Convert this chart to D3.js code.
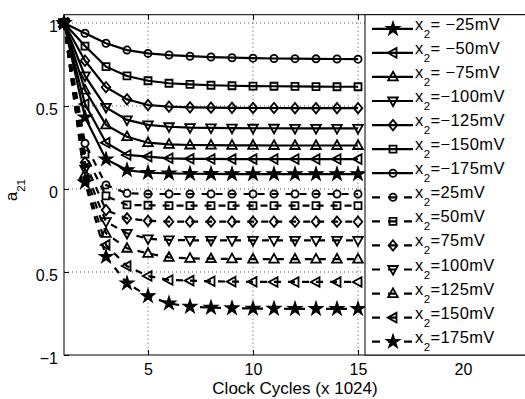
<!DOCTYPE html>
<html>
<head>
<meta charset="utf-8">
<script src="https://cdn.jsdelivr.net/npm/d3@7"></script>
<style>
  body { margin: 0; background: #fff; }
  svg { display: block; font-family: "Liberation Sans", Arial, Helvetica, sans-serif; }
</style>
</head>
<body>
<svg id="chart" width="525" height="399"></svg>
<script>
// Clock cycles (x 1024), same for every curve
var cycles = [1, 2, 3, 4, 5, 6, 7, 8, 9, 10, 11, 12, 13, 14, 15];

// a21 for negative x2 (solid lines)
var aNeg25  = [1, 0.432, 0.179, 0.114, 0.098, 0.094, 0.092, 0.091, 0.090, 0.090, 0.090, 0.090, 0.090, 0.090, 0.090];
var aNeg50  = [1, 0.512, 0.279, 0.205, 0.195, 0.185, 0.182, 0.181, 0.180, 0.180, 0.180, 0.180, 0.180, 0.180, 0.180];
var aNeg75  = [1, 0.596, 0.386, 0.315, 0.279, 0.269, 0.265, 0.264, 0.263, 0.263, 0.262, 0.262, 0.262, 0.262, 0.262];
var aNeg100 = [1, 0.681, 0.492, 0.416, 0.386, 0.375, 0.370, 0.368, 0.367, 0.366, 0.366, 0.365, 0.365, 0.365, 0.365];
var aNeg125 = [1, 0.773, 0.613, 0.540, 0.506, 0.496, 0.492, 0.490, 0.489, 0.488, 0.488, 0.487, 0.487, 0.487, 0.487];
var aNeg150 = [1, 0.861, 0.737, 0.681, 0.652, 0.637, 0.630, 0.625, 0.622, 0.620, 0.619, 0.618, 0.617, 0.616, 0.616];
var aNeg175 = [1, 0.938, 0.878, 0.837, 0.817, 0.807, 0.800, 0.795, 0.791, 0.788, 0.786, 0.785, 0.784, 0.783, 0.782];

// a21 for positive x2 (dashed lines)
var aPos25  = [1, 0.275, 0.024, -0.026, -0.030, -0.030, -0.030, -0.030, -0.030, -0.030, -0.030, -0.030, -0.030, -0.030, -0.030];
var aPos50  = [1, 0.210, -0.042, -0.096, -0.098, -0.100, -0.100, -0.100, -0.100, -0.100, -0.100, -0.100, -0.100, -0.100, -0.100];
var aPos75  = [1, 0.160, -0.127, -0.177, -0.192, -0.197, -0.197, -0.197, -0.197, -0.197, -0.197, -0.197, -0.197, -0.197, -0.197];
var aPos100 = [1, 0.120, -0.197, -0.267, -0.300, -0.307, -0.309, -0.310, -0.310, -0.310, -0.310, -0.310, -0.310, -0.310, -0.310];
var aPos125 = [1, 0.090, -0.267, -0.357, -0.388, -0.412, -0.418, -0.420, -0.421, -0.422, -0.422, -0.422, -0.422, -0.422, -0.422];
var aPos150 = [1, 0.060, -0.337, -0.464, -0.524, -0.548, -0.552, -0.556, -0.558, -0.559, -0.560, -0.560, -0.560, -0.560, -0.560];
var aPos175 = [1, 0.040, -0.408, -0.568, -0.645, -0.689, -0.709, -0.715, -0.718, -0.720, -0.721, -0.722, -0.722, -0.722, -0.722];

var legendLabels = ["= \u221225mV", "= \u221250mV", "= \u221275mV", "=\u2212100mV", "=\u2212125mV", "=\u2212150mV", "=\u2212175mV",
                    "=25mV", "=50mV", "=75mV", "=100mV", "=125mV", "=150mV", "=175mV"];
var markers = ["star", "left", "up", "down", "diamond", "square", "circle",
               "circle", "square", "diamond", "down", "up", "left", "star"];
var xTicks = [5, 10, 15, 20];
var yTicks = [-1, -0.5, 0, 0.5, 1];
var yTickLabels = ["\u22121", "0.5", "0", "0.5", "1"];

// legend order == draw order
var series = [aNeg25, aNeg50, aNeg75, aNeg100, aNeg125, aNeg150, aNeg175,
              aPos25, aPos50, aPos75, aPos100, aPos125, aPos150, aPos175].map(function(vals, i) {
  return {
    values: vals,
    label: legendLabels[i],
    marker: markers[i],
    dashed: i >= 7
  };
});

var svg = d3.select("#chart");
var x = d3.scaleLinear().domain([1, 23]).range([64, 526]);
var y = d3.scaleLinear().domain([-1, 1.05]).range([355, 14.7]);

var markerPath = function(type) {
  switch (type) {
    case "circle":  return "M3.6,0A3.6,3.6 0 1,1 -3.6,0A3.6,3.6 0 1,1 3.6,0Z";
    case "square":  return "M-3.5,-3.5H3.5V3.5H-3.5Z";
    case "diamond": return "M0,-5.2L4.3,0L0,5.2L-4.3,0Z";
    case "up":      return "M0,-5.2L4.8,3.5L-4.8,3.5Z";
    case "down":    return "M0,5.2L4.8,-3.5L-4.8,-3.5Z";
    case "left":    return "M-5.2,0L3.5,-4.8L3.5,4.8Z";
    case "star":    return d3.symbol(d3.symbolStar, 58)();
  }
};

var drawMarker = function(sel, type) {
  sel.append("path")
    .attr("d", markerPath(type))
    .attr("fill", type === "star" ? "#000" : "none")
    .attr("stroke", "#000")
    .attr("stroke-width", type === "star" ? 1.2 : 1.8)
    .attr("stroke-linejoin", "miter");
};

// dotted grid
svg.append("g").selectAll("line").data(xTicks).enter().append("line")
  .attr("x1", function(d) { return x(d); }).attr("x2", function(d) { return x(d); })
  .attr("y1", y(1.05)).attr("y2", y(-1))
  .attr("stroke", "#555").attr("stroke-width", 1).attr("stroke-dasharray", "1,3");
svg.append("g").selectAll("line").data(yTicks.slice(1)).enter().append("line")
  .attr("x1", x(1)).attr("x2", x(23))
  .attr("y1", function(d) { return y(d); }).attr("y2", function(d) { return y(d); })
  .attr("stroke", "#555").attr("stroke-width", 1).attr("stroke-dasharray", "1,3");

// curves
var line = d3.line()
  .x(function(d, i) { return x(cycles[i]); })
  .y(function(d) { return y(d); });

var curves = svg.append("g");
series.forEach(function(s) {
  var g = curves.append("g");
  g.append("path")
    .attr("d", line(s.values))
    .attr("fill", "none")
    .attr("stroke", "#000")
    .attr("stroke-width", 2.2)
    .attr("stroke-dasharray", s.dashed ? "7,7" : null);
  g.selectAll(".mk").data(s.values).enter().append("g")
    .attr("class", "mk")
    .attr("transform", function(d, i) { return "translate(" + x(cycles[i]) + "," + y(d) + ")"; })
    .each(function() { drawMarker(d3.select(this), s.marker); });
});

// axes
var fontFam = '"Liberation Sans", Arial, Helvetica, sans-serif';
var xAxis = svg.append("g")
  .attr("transform", "translate(0," + y(-1) + ")")
  .call(d3.axisBottom(x).tickValues(xTicks).tickSize(-5).tickSizeOuter(0).tickPadding(9));
var xAxisTop = svg.append("g")
  .attr("transform", "translate(0," + y(1.05) + ")")
  .call(d3.axisTop(x).tickValues(xTicks).tickSize(-5).tickSizeOuter(0).tickFormat(""));
var yAxis = svg.append("g")
  .attr("transform", "translate(" + x(1) + ",0)")
  .call(d3.axisLeft(y).tickValues(yTicks).tickSize(-5).tickSizeOuter(0).tickPadding(6)
    .tickFormat(function(d, i) { return yTickLabels[i]; }));
[xAxis, xAxisTop, yAxis].forEach(function(a) {
  a.attr("font-size", 16).attr("font-family", fontFam);
  a.select(".domain").remove();
  a.selectAll("line").attr("stroke", "#000");
});
yAxis.selectAll("text").attr("dy", "0.5em");

svg.append("rect")
  .attr("x", x(1)).attr("y", y(1.05))
  .attr("width", x(23) - x(1)).attr("height", y(-1) - y(1.05))
  .attr("fill", "none").attr("stroke", "#000").attr("stroke-width", 1);

// axis labels
svg.append("text")
  .attr("x", (x(1) + x(23)) / 2).attr("y", 394)
  .attr("text-anchor", "middle").attr("font-size", 17)
  .text("Clock Cycles (x 1024)");

var yl = svg.append("text")
  .attr("transform", "translate(17,190) rotate(-90)")
  .attr("text-anchor", "middle").attr("font-size", 16.5);
yl.append("tspan").text("a");
yl.append("tspan").attr("dy", 7.5).attr("font-size", 11.5).text("21");

// legend
var lgX = 365, lgTop = y(1.05);
var legend = svg.append("g");
legend.append("rect")
  .attr("x", lgX).attr("y", lgTop)
  .attr("width", 180).attr("height", y(-1) - lgTop)
  .attr("fill", "#fff").attr("stroke", "#000").attr("stroke-width", 1);

var item = legend.selectAll(".item").data(series).enter().append("g")
  .attr("class", "item")
  .attr("transform", function(d, i) { return "translate(0," + (28.8 + i * 24.07) + ")"; });
item.append("line")
  .attr("x1", 372).attr("x2", 413).attr("y1", 0).attr("y2", 0)
  .attr("stroke", "#000").attr("stroke-width", 2.2)
  .attr("stroke-dasharray", function(d) { return d.dashed ? "8,8" : null; });
item.each(function(d) {
  var m = d3.select(this).append("g").attr("transform", "translate(393,0)");
  drawMarker(m, d.marker);
});
var lt = item.append("text")
  .attr("x", 415).attr("y", 1)
  .attr("font-size", 16.5).attr("letter-spacing", 0.4);
lt.append("tspan").text("x");
lt.append("tspan").attr("dy", 8).attr("font-size", 11.5).text("2");
lt.append("tspan").attr("dy", -8).text(function(d) { return d.label; });
</script>
</body>
</html>
